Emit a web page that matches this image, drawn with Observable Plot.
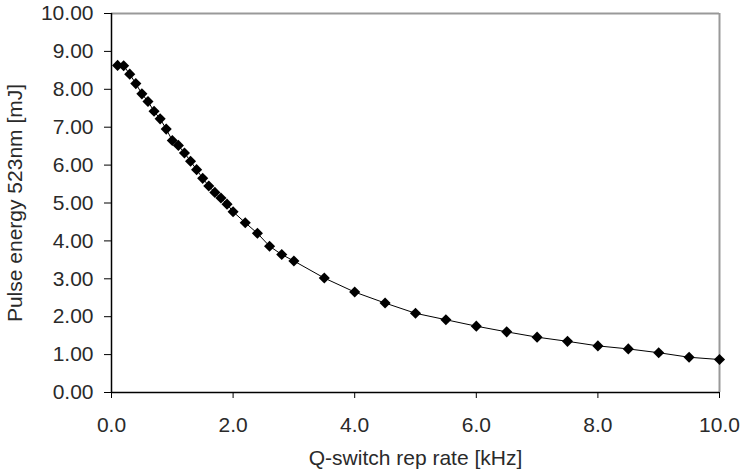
<!DOCTYPE html>
<html>
<head>
<meta charset="utf-8">
<script src="https://cdn.jsdelivr.net/npm/d3@7"></script>
<script src="https://cdn.jsdelivr.net/npm/@observablehq/plot@0.6"></script>
<style>
  html, body { margin: 0; padding: 0; background: #fff; }
</style>
</head>
<body>
<div id="chart"></div>
<script>
const repRate = [0.1, 0.2, 0.3, 0.4, 0.5, 0.6, 0.7, 0.8, 0.9, 1.0,
                 1.1, 1.2, 1.3, 1.4, 1.5, 1.6, 1.7, 1.8, 1.9, 2.0,
                 2.2, 2.4, 2.6, 2.8, 3.0, 3.5, 4.0, 4.5, 5.0, 5.5,
                 6.0, 6.5, 7.0, 7.5, 8.0, 8.5, 9.0, 9.5, 10.0];
const pulseEnergy = [8.63, 8.62, 8.40, 8.15, 7.88, 7.68, 7.42, 7.22, 6.95, 6.65,
                     6.52, 6.32, 6.10, 5.88, 5.65, 5.45, 5.28, 5.13, 4.97, 4.77,
                     4.48, 4.20, 3.86, 3.64, 3.47, 3.02, 2.65, 2.36, 2.09, 1.92,
                     1.75, 1.60, 1.46, 1.35, 1.23, 1.15, 1.05, 0.93, 0.87];
const xTicks = [0, 2, 4, 6, 8, 10];
const yTicks = [0, 1, 2, 3, 4, 5, 6, 7, 8, 9, 10];
const xLabel = "Q-switch rep rate [kHz]";
const yLabel = "Pulse energy 523nm [mJ]";

const data = repRate.map((x, i) => ({x, y: pulseEnergy[i]}));

const chart = Plot.plot({
  width: 741,
  height: 472,
  marginLeft: 111,
  marginRight: 22,
  marginTop: 13,
  marginBottom: 80,
  style: {fontFamily: "'Liberation Sans', Arial, sans-serif", fontSize: "21px", color: "#2a2a2a", background: "#fff"},
  x: {domain: [0, 10]},
  y: {domain: [0, 10]},
  marks: [
    Plot.ruleY([10], {stroke: "#999", strokeWidth: 2}),
    Plot.ruleX([10], {stroke: "#999", strokeWidth: 2}),
    Plot.axisX(xTicks, {tickSize: 6, tickPadding: 19, tickFormat: d => d.toFixed(1), stroke: "#000",
      label: xLabel, labelAnchor: "center", labelOffset: 72, labelArrow: "none"}),
    Plot.axisY(yTicks, {tickSize: 7, tickPadding: 11, tickFormat: d => d.toFixed(2), stroke: "#000",
      label: yLabel, labelAnchor: "center", labelOffset: 104, labelArrow: "none"}),
    Plot.ruleX([0], {stroke: "#000", strokeWidth: 1.5}),
    Plot.ruleY([0], {stroke: "#000", strokeWidth: 1.5}),
    Plot.line(data, {x: "x", y: "y", stroke: "#000", strokeWidth: 1}),
    Plot.dot(data, {x: "x", y: "y", symbol: "diamond2", r: 5, fill: "#000", stroke: "none"})
  ]
});
document.getElementById("chart").appendChild(chart);
</script>
</body>
</html>
